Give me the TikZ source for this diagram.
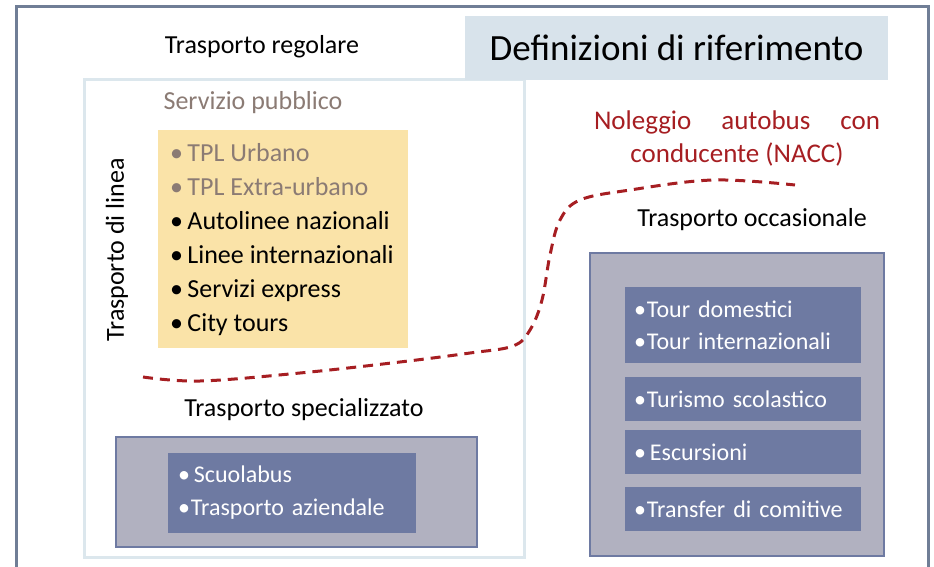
\documentclass[tikz,border=0pt]{standalone}
\usepackage{fontspec}
\setmainfont{Carlito}
\usepackage{xcolor}
\usepackage{tikz}
\usetikzlibrary{positioning}
\definecolor{DefFrame}{RGB}{112, 126, 150}
\definecolor{DefPale}{RGB}{220, 231, 237}
\definecolor{DefTitle}{RGB}{216, 227, 235}
\definecolor{DefYellow}{RGB}{250, 227, 168}
\definecolor{DefMuted}{RGB}{139, 123, 116}
\definecolor{DefGrey}{RGB}{177, 177, 192}
\definecolor{DefBlue}{RGB}{110, 122, 162}
\definecolor{DefRed}{RGB}{166, 30, 34}
\tikzset{
  headtext/.style={inner sep=0pt, font=\fontsize{26}{30}\selectfont},
  greybox/.style={draw=DefBlue, line width=2pt, fill=DefGrey, inner sep=0pt},
  bluebox/.style={fill=DefBlue, inner ysep=0pt, text=white, align=left,
    font=\fontsize{24}{32}\selectfont},
}

\begin{document}
\begin{tikzpicture}[x=1pt, y=-1pt]
  \useasboundingbox (0,0) rectangle (934,567);
  % cornice e riquadro del trasporto regolare
  \draw[DefFrame, line width=3pt] (16,580) |- (928,7) -- (928,580);
  \draw[DefPale, line width=3pt] (84,80) rectangle (524,557);
  \node[fill=DefTitle, minimum width=423pt, minimum height=64pt, inner sep=0pt,
    font=\fontsize{37}{40}\selectfont] (titolo) at (676.5,48) {Definizioni di riferimento};
  \node[headtext] (regolare) at (262,47) {Trasporto regolare};

  % servizio pubblico
  \node[headtext, text=DefMuted] (pubblico) at (253,103) {Servizio pubblico};
  \node[fill=DefYellow, minimum width=250pt, minimum height=218pt, inner sep=0pt]
    (lineaBox) at (283,239) {};
  \node[anchor=west, align=left, inner sep=0pt, font=\fontsize{26}{34}\selectfont]
    (lineaList) at (170,240) {%
    {\color{DefMuted}•\,TPL Urbano}\\
    {\color{DefMuted}•\,TPL Extra-urbano}\\
    •\,Autolinee nazionali\\
    •\,Linee internazionali\\
    •\,Servizi express\\
    •\,City tours};
  \node[headtext, rotate=90] (linea) at (117,250) {Trasporto di linea};

  % confine NACC
  \draw[DefRed, line width=3pt, dash pattern=on 10pt off 7pt]
    plot[smooth, tension=0.6] coordinates {(143,377) (200,381) (300,373) (400,362)
    (470,353) (513,346) (530,330) (542,300) (550,255) (560,220) (580,200)
    (630,190) (713,180) (795,185)};
  \node[align=center, inner sep=0pt, text=DefRed, font=\fontsize{27}{33}\selectfont]
    (nacc) at (737,138) {\makebox[286pt][s]{Noleggio autobus con}\\conducente (NACC)};

  % trasporto occasionale
  \node[headtext] (occasionale) at (752,220) {Trasporto occasionale};
  \node[greybox, minimum width=294pt, minimum height=303pt] (occBox) at (737,404.5) {};
  \node[bluebox, text width=218pt, inner xsep=9pt, minimum height=76pt] (tour) at (743,325)
    {•\kern1pt Tour domestici\\•\kern1pt Tour internazionali};
  \node[bluebox, text width=218pt, inner xsep=9pt, minimum height=44pt] (scolastico) at (743,399)
    {•\kern1pt Turismo scolastico};
  \node[bluebox, text width=218pt, inner xsep=9pt, minimum height=44pt] (escursioni) at (743,452)
    {•\,Escursioni};
  \node[bluebox, text width=218pt, inner xsep=9pt, minimum height=44pt] (transfer) at (743,509)
    {•\kern1pt Transfer di comitive};

  % trasporto specializzato
  \node[headtext] (specializzato) at (304,410) {Trasporto specializzato};
  \node[greybox, minimum width=361pt, minimum height=110pt] (specBox) at (296.5,492) {};
  \node[bluebox, text width=228pt, inner xsep=10pt, minimum height=80pt,
    font=\fontsize{24}{33}\selectfont] (scuolabus) at (292,493)
    {•\,Scuolabus\\•\kern1pt Trasporto aziendale};
\end{tikzpicture}
\end{document}
